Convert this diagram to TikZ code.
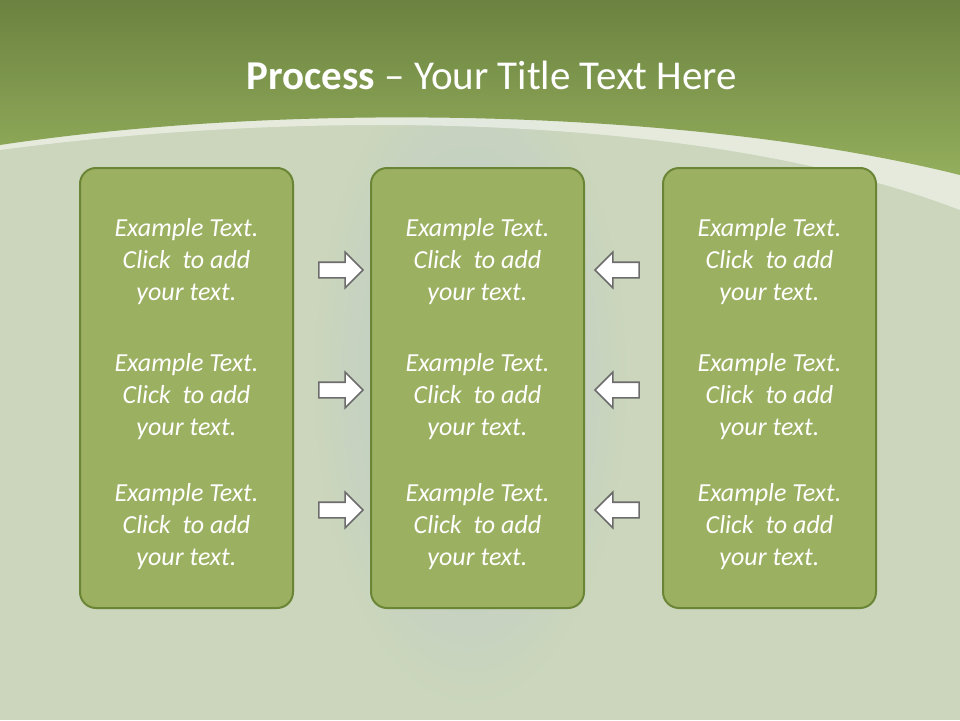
\documentclass[tikz,border=0pt]{standalone}
\usepackage{fontspec}
\setmainfont{Carlito}
\usetikzlibrary{shapes.arrows,shadows}
\definecolor{bg}{HTML}{CBD6BC}
\definecolor{bgb}{HTML}{B8C9D0}
\definecolor{topd}{HTML}{6B8240}
\definecolor{topl}{HTML}{93AE5C}
\definecolor{boxf}{HTML}{9CB062}
\definecolor{boxd}{HTML}{6A8536}
\newcommand\ptxt{Example Text.\\Click\ \ to add\\your text.}
\tikzset{
  panel/.style={draw=boxd,line width=2pt,fill=boxf,rounded corners=16pt,minimum width=213pt,minimum height=440pt},
  ptext/.style={text=white,font=\fontsize{26}{32}\selectfont\itshape,align=center},
  rarrow/.style={single arrow,draw=gray!85!black,line width=1.6pt,fill=white,inner sep=7pt,single arrow head extend=10pt,minimum height=44pt}
}
\begin{document}
\begin{tikzpicture}[x=1pt,y=-1pt]
\useasboundingbox (0,0) rectangle (960,720);
\fill[bg] (0,0) rectangle (960,720);
\shade[inner color=bgb,outer color=bg,opacity=0.8] (470,380) ellipse (160 and 330);
\fill[white,opacity=0.5] (0,150) .. controls (300,110) and (700,110) .. (960,210) -- (960,160) .. controls (700,100) and (300,100) .. (0,140) -- cycle;
\shade[top color=topd,bottom color=topl] (0,0) -- (960,0) -- (960,175) .. controls (700,110) and (300,100) .. (0,145) -- cycle;
\node[text=white,font=\fontsize{41}{48}\selectfont] (title) at (492,75) {\textbf{Process} -- Your Title Text Here};
\foreach \n/\x in {L/186.5,M/477.5,R/769.5}{
  \node[panel] (\n) at (\x,388) {};
  \foreach \y/\k in {262/1,397/2,527/3}{
    \node[ptext] (\n\k) at (\x,\y) {\ptxt};
  }
}
\foreach \y/\k in {270/1,390/2,510/3}{
  \node[rarrow] (ra\k) at (337,\y) {};
  \node[rarrow,shape border rotate=180] (la\k) at (621,\y) {};
}
\end{tikzpicture}
\end{document}
